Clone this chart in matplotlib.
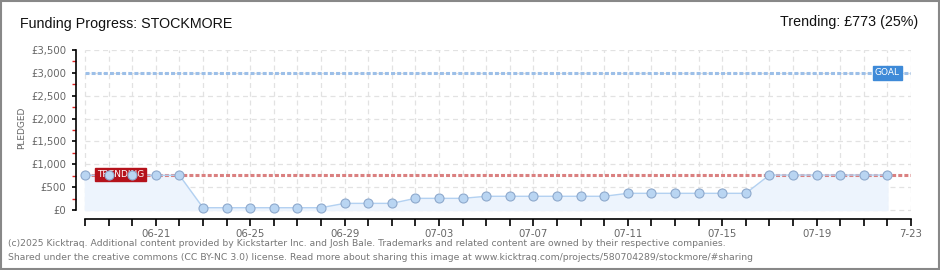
import numpy as np
import matplotlib
matplotlib.use("Agg")
import matplotlib.pyplot as plt
from matplotlib.patches import Rectangle

# data
days = ["06-18", "06-19", "06-20", "06-21", "06-22", "06-23", "06-24", "06-25",
        "06-26", "06-27", "06-28", "06-29", "06-30", "07-01", "07-02", "07-03",
        "07-04", "07-05", "07-06", "07-07", "07-08", "07-09", "07-10", "07-11",
        "07-12", "07-13", "07-14", "07-15", "07-16", "07-17", "07-18", "07-19",
        "07-20", "07-21", "07-22"]
pledged = [760, 760, 760, 760, 760,
           50, 50, 50, 50, 50, 50,
           145, 145, 145,
           255, 255, 255,
           300, 300, 300, 300, 300, 300,
           365, 365, 365, 365, 365, 365,
           765, 765, 765, 765, 765, 765]
tick_days = ["06-21", "06-25", "06-29", "07-03", "07-07", "07-11", "07-15", "07-19", "7-23"]
goal = 3000
trend = 773
y_ticks = [0, 500, 1000, 1500, 2000, 2500, 3000, 3500]
y_labels = ["£0", "£500", "£1,000", "£1,500", "£2,000", "£2,500", "£3,000", "£3,500"]

W, H = 940, 270
fig = plt.figure(figsize=(W / 100, H / 100), dpi=100)
fig.patch.set_facecolor("white")

# axes box in pixels: x 76..911, y 50..219
ax = fig.add_axes([76 / W, (H - 219) / H, (911 - 76) / W, (219 - 50) / H])
x = np.arange(len(days))
n_end = len(days)  # one extra day at the end (7-23)
ax.set_xlim(-0.38, n_end)
ax.set_ylim(-197, 3500)

# grid
ax.hlines(y_ticks, 0, n_end, colors="#e2e2e2", linestyles=(0, (4, 3)), linewidth=0.9, zorder=0)
ax.vlines(np.arange(n_end + 1), 0, 3500, colors="#e2e2e2", linestyles=(0, (4, 3)), linewidth=0.9, zorder=0)

# pledged series
ax.fill_between(x, 0, pledged, color="#edf4fd", zorder=1)
ax.plot(x, pledged, color="#b3d1f1", linewidth=1, zorder=3)

# goal / trending lines
dots = (0, (1.3, 0.7))
ax.hlines(goal, 0, n_end, colors="#9cbfe8", linestyles=dots, linewidth=2.2, zorder=2)
ax.hlines(trend, 0, n_end, colors="#da8080", linestyles=dots, linewidth=2.2, zorder=2)
ax.text(1.51, trend, "TRENDING", color="white", fontsize=6.5, ha="center", va="center",
        zorder=4, bbox=dict(boxstyle="square,pad=0.25", fc="#b5121b", ec="#b5121b"))
ax.text(34.0, goal, "GOAL", color="white", fontsize=6.5, ha="center", va="center",
        zorder=4, bbox=dict(boxstyle="square,pad=0.25", fc="#3e8ad8", ec="#3e8ad8"))

ax.plot(x, pledged, linestyle="none", marker="o", markersize=6.5,
        markerfacecolor="#b9d5f2", markeredgecolor="#8ea9cc", markeredgewidth=0.8, zorder=5)

# axes styling
for s in ["top", "right"]:
    ax.spines[s].set_visible(False)
ax.spines["left"].set_bounds(0, 3500)
ax.spines["bottom"].set_bounds(0, n_end)
ax.spines["left"].set_linewidth(1.2)
ax.spines["bottom"].set_linewidth(1.2)
ax.set_facecolor("none")

ax.set_yticks(y_ticks)
ax.set_yticklabels(y_labels)
ax.set_yticks(np.arange(250, 3500, 500), minor=True)
ax.tick_params(axis="y", which="major", direction="out", length=3, width=1.2, color="black",
               labelsize=7.3, labelcolor="#666666", pad=4)
ax.tick_params(axis="y", which="minor", direction="out", length=3, width=1, color="#dd2222")

ax.set_xticks(np.arange(n_end + 1))
lab = [""] * (n_end + 1)
for t in tick_days:
    if t in days:
        lab[days.index(t)] = t
lab[n_end] = tick_days[-1]
ax.set_xticklabels(lab)
ax.tick_params(axis="x", direction="out", length=5, width=1.2, color="black",
               labelsize=7.3, labelcolor="#666666", pad=2)

# texts
title_font = ["Liberation Sans", "DejaVu Sans"]
fig.text(20 / W, 1 - 24 / H, "Funding Progress: STOCKMORE", fontsize=10.3, color="#111111",
         ha="left", va="center", family=title_font)
fig.text(918 / W, 1 - 22 / H, "Trending: £773 (25%)", fontsize=10.3, color="#111111",
         ha="right", va="center", family=title_font)
fig.text(22 / W, 1 - 128 / H, "PLEDGED", fontsize=6.5, color="#666666", rotation=90,
         ha="center", va="center")
fig.text(8 / W, 1 - 243 / H,
         "(c)2025 Kicktraq. Additional content provided by Kickstarter Inc. and Josh Bale. "
         "Trademarks and related content are owned by their respective companies.",
         fontsize=6.7, color="#777777", ha="left", va="center")
fig.text(8 / W, 1 - 257 / H,
         "Shared under the creative commons (CC BY-NC 3.0) license. Read more about sharing "
         "this image at www.kicktraq.com/projects/580704289/stockmore/#sharing",
         fontsize=6.7, color="#777777", ha="left", va="center")

# outer frame
fig.patches.append(Rectangle((0.001, 0.002), 0.998, 0.996, transform=fig.transFigure,
                             fill=False, edgecolor="#888888", linewidth=1.5))

fig.savefig("out.png", dpi=100)
